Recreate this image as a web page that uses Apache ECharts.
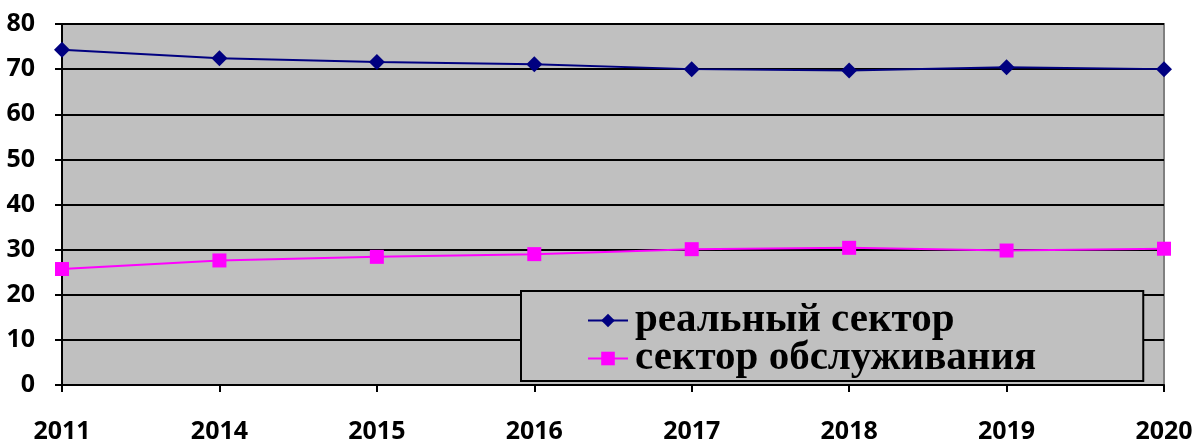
<!DOCTYPE html>
<html><head><meta charset="utf-8">
<script src="https://cdn.jsdelivr.net/npm/echarts@6/dist/echarts.min.js"></script>
<style>html,body{margin:0;padding:0;background:#fff}#c{width:1196px;height:441px}</style>
</head><body><div id="c"></div>
<script>
const years = ['2011','2014','2015','2016','2017','2018','2019','2020'];
const realSector = [74.3, 72.4, 71.6, 71.1, 70.0, 69.7, 70.4, 70.0];
const serviceSector = [25.7, 27.6, 28.4, 29.0, 30.1, 30.4, 29.8, 30.2];
const seriesNames = ['реальный сектор', 'сектор обслуживания'];

const chart = echarts.init(document.getElementById('c'));
chart.setOption({
  animation: false,
  backgroundColor: '#fff',
  grid: {left: 62, right: 32, top: 24, bottom: 56, containLabel: false, outerBoundsMode: 'none',
         show: true, backgroundColor: '#c0c0c0', borderColor: '#808080', borderWidth: 2},
  xAxis: {
    type: 'category', data: years, boundaryGap: false,
    axisLine: {lineStyle: {color: '#000', width: 2}},
    axisTick: {show: true, alignWithLabel: true, length: 7, lineStyle: {color: '#000', width: 2}},
    axisLabel: {margin: 34, fontFamily: 'Open Sans', fontWeight: 'bold', fontSize: 25, color: '#000'},
    splitLine: {show: false}
  },
  yAxis: {
    type: 'value', min: 0, max: 80, interval: 10,
    axisLine: {show: true, lineStyle: {color: '#000', width: 2}},
    axisTick: {show: true, length: 7, lineStyle: {color: '#000', width: 2}},
    axisLabel: {margin: 27, fontFamily: 'Open Sans', fontWeight: 'bold', fontSize: 25, color: '#000'},
    splitLine: {lineStyle: {color: '#000', width: 2}}
  },
  legend: {
    orient: 'vertical', left: 521, top: 291,
    padding: [9, 107, 2, 66],
    itemGap: -3, itemWidth: 40, itemHeight: 17,
    backgroundColor: '#c0c0c0', borderColor: '#000', borderWidth: 2,
    textStyle: {fontFamily: 'Liberation Serif', fontWeight: 'bold', fontSize: 41, color: '#000', padding: [0,0,0,2]},
    data: seriesNames
  },
  series: [
    {name: seriesNames[0], type: 'line', data: realSector, symbol: 'diamond', symbolSize: 16,
     itemStyle: {color: '#000080'}, lineStyle: {color: '#000080', width: 2}},
    {name: seriesNames[1], type: 'line', data: serviceSector, symbol: 'rect', symbolSize: 14,
     itemStyle: {color: '#ff00ff'}, lineStyle: {color: '#ff00ff', width: 2}}
  ]
});
</script></body></html>
